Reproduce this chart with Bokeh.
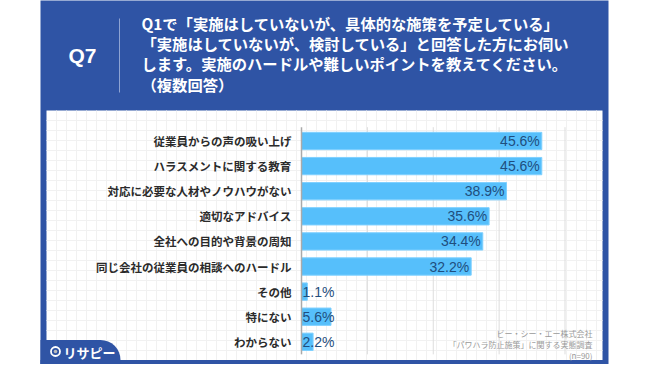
from bokeh.plotting import figure
from bokeh.models import Range1d, ColumnDataSource
from bokeh.core.properties import value
from bokeh.embed import file_html
from bokeh.resources import INLINE

# ---- data ----
categories = [
    "従業員からの声の吸い上げ",
    "ハラスメントに関する教育",
    "対応に必要な人材やノウハウがない",
    "適切なアドバイス",
    "全社への目的や背景の周知",
    "同じ会社の従業員の相談へのハードル",
    "その他",
    "特にない",
    "わからない",
]
values = [45.6, 45.6, 38.9, 35.6, 34.4, 32.2, 1.1, 5.6, 2.2]
grid_ticks = [12.5, 25, 37.5, 50]
title_lines = [
    "Q1で「実施はしていないが、具体的な施策を予定している」",
    "「実施はしていないが、検討している」と回答した方にお伺い",
    "します。実施のハードルや難しいポイントを教えてください。",
    "（複数回答）",
]
source_lines = ["ビー・シー・エー株式会社", "「パワハラ防止施策」に関する実態調査", "(n=90)"]

# ---- layout (reference pixel space) ----
W, H = 634, 364
X0, Y0 = 0, 0
AXIS_PX = 301.0
PX_PER_PCT = 5.27
ROW0_PX = 140.5
ROW_PX = 25.1
PANEL_BOTTOM = 359.5

BLUE = "#2F54A5"
BAR = "#56BFFB"
JP = "Noto Sans CJK JP"

x_range = Range1d((X0 - AXIS_PX) / PX_PER_PCT, (X0 + W - AXIS_PX) / PX_PER_PCT)
y_range = Range1d(start=(Y0 + H - ROW0_PX) / ROW_PX, end=(Y0 - ROW0_PX) / ROW_PX)

p = figure(width=W, height=H, x_range=x_range, y_range=y_range,
           output_backend="svg", toolbar_location=None,
           x_axis_location=None, y_axis_location=None, min_border=0)
p.extra_x_ranges = {"px": Range1d(X0, X0 + W)}
p.extra_y_ranges = {"px": Range1d(Y0 + H, Y0)}
p.grid.visible = False
p.outline_line_color = None
p.background_fill_color = "white"
p.border_fill_color = "white"

PX = dict(x_range_name="px", y_range_name="px")

# blue frame
p.quad(left=[40], right=[608], top=[-5], bottom=[390], fill_color=BLUE, line_color=None, **PX)
# white panel
p.quad(left=[46], right=[602], top=[110], bottom=[PANEL_BOTTOM], fill_color="white", line_color=None, **PX)

# fine background grid
fx = list(range(56, 602, 10))
fy = list(range(120, int(PANEL_BOTTOM), 10))
p.segment(x0=fx, x1=fx, y0=[110] * len(fx), y1=[PANEL_BOTTOM] * len(fx), line_color="#F1F1F1", line_width=1, **PX)
p.segment(x0=[46] * len(fy), x1=[602] * len(fy), y0=fy, y1=fy, line_color="#F1F1F1", line_width=1, **PX)

# logo tab
TAB_TOP = PANEL_BOTTOM - 20
p.quad(left=[40], right=[100], top=[TAB_TOP], bottom=[390], fill_color=BLUE, line_color=None, **PX)
p.quad(left=[40], right=[121], top=[PANEL_BOTTOM], bottom=[390], fill_color=BLUE, line_color=None, **PX)
p.circle(x=[100], y=[PANEL_BOTTOM], radius=20, fill_color=BLUE, line_color=None, **PX)
p.circle(x=[55], y=[TAB_TOP + 11.5], radius=4.5, fill_color=None, line_color="white", line_width=1.8, **PX)
p.circle(x=[55], y=[TAB_TOP + 11.5], radius=1.8, fill_color="#BBBBBB", line_color=None, **PX)
p.text(x=[63], y=[TAB_TOP + 12.5], text=["リサピー"], text_color="white", text_font=value(JP),
       text_font_style="bold", text_font_size="13px", text_baseline="middle", **PX)

# header
p.text(x=[82], y=[55], text=["Q7"], text_color="white", text_font=value("Liberation Sans"),
       text_font_style="bold", text_font_size="21px", text_align="center", text_baseline="middle", **PX)
p.segment(x0=[119], x1=[119], y0=[18], y1=[92], line_color="#8EA3D3", line_width=1, **PX)
p.text(x=[141] * len(title_lines), y=[22.5, 42.5, 62.5, 83], text=title_lines, text_color="white",
       text_font=value(JP), text_font_style="bold", text_font_size="15.3px", text_baseline="middle", **PX)

# data part
n = len(categories)
idx = list(range(n))
src = ColumnDataSource(dict(y=idx, v=values, cat=categories))

gy0, gy1 = -0.55, n - 1 + 0.5
p.segment(x0=grid_ticks, x1=grid_ticks, y0=[gy0] * len(grid_ticks), y1=[gy1] * len(grid_ticks),
          line_color="#DDDDDD", line_width=1)

p.hbar(y="y", left=0, right="v", height=0.69, source=src, fill_color=BAR, line_color="#7FD0FF", line_width=1)
p.segment(x0=[0], x1=[0], y0=[gy0], y1=[gy1], line_color="#AAAAAA", line_width=1.5)

p.text(x=0, y="y", text="cat", source=src, x_offset=-10, text_align="right", text_baseline="middle",
       text_font=value(JP), text_font_style="bold", text_font_size="11.5px", text_color="#2B2B2B")

big = [i for i in idx if values[i] >= 10]
small = [i for i in idx if values[i] < 10]
src_big = ColumnDataSource(dict(y=big, v=[values[i] for i in big], lab=[f"{values[i]:.1f}%" for i in big]))
src_small = ColumnDataSource(dict(y=small, v=[values[i] for i in small], lab=[f"{values[i]:.1f}%" for i in small]))
p.text(x="v", y="y", text="lab", source=src_big, x_offset=-2, text_align="right", text_baseline="middle",
       text_font=value("Liberation Sans"), text_font_size="14px", text_color="#1F4E7E")
p.text(x=0, y="y", text="lab", source=src_small, x_offset=1, text_align="left", text_baseline="middle",
       text_font=value("Liberation Sans"), text_font_size="14px", text_color="#1F4E7E")

# source note
p.text(x=[592] * 3, y=[PANEL_BOTTOM - 27, PANEL_BOTTOM - 16, PANEL_BOTTOM - 5], text=source_lines,
       text_align="right", text_baseline="middle",
       text_font=value(JP), text_font_size="8px", text_color="#9A9A9A", **PX)

open("out.html", "w").write(file_html(p, INLINE))
